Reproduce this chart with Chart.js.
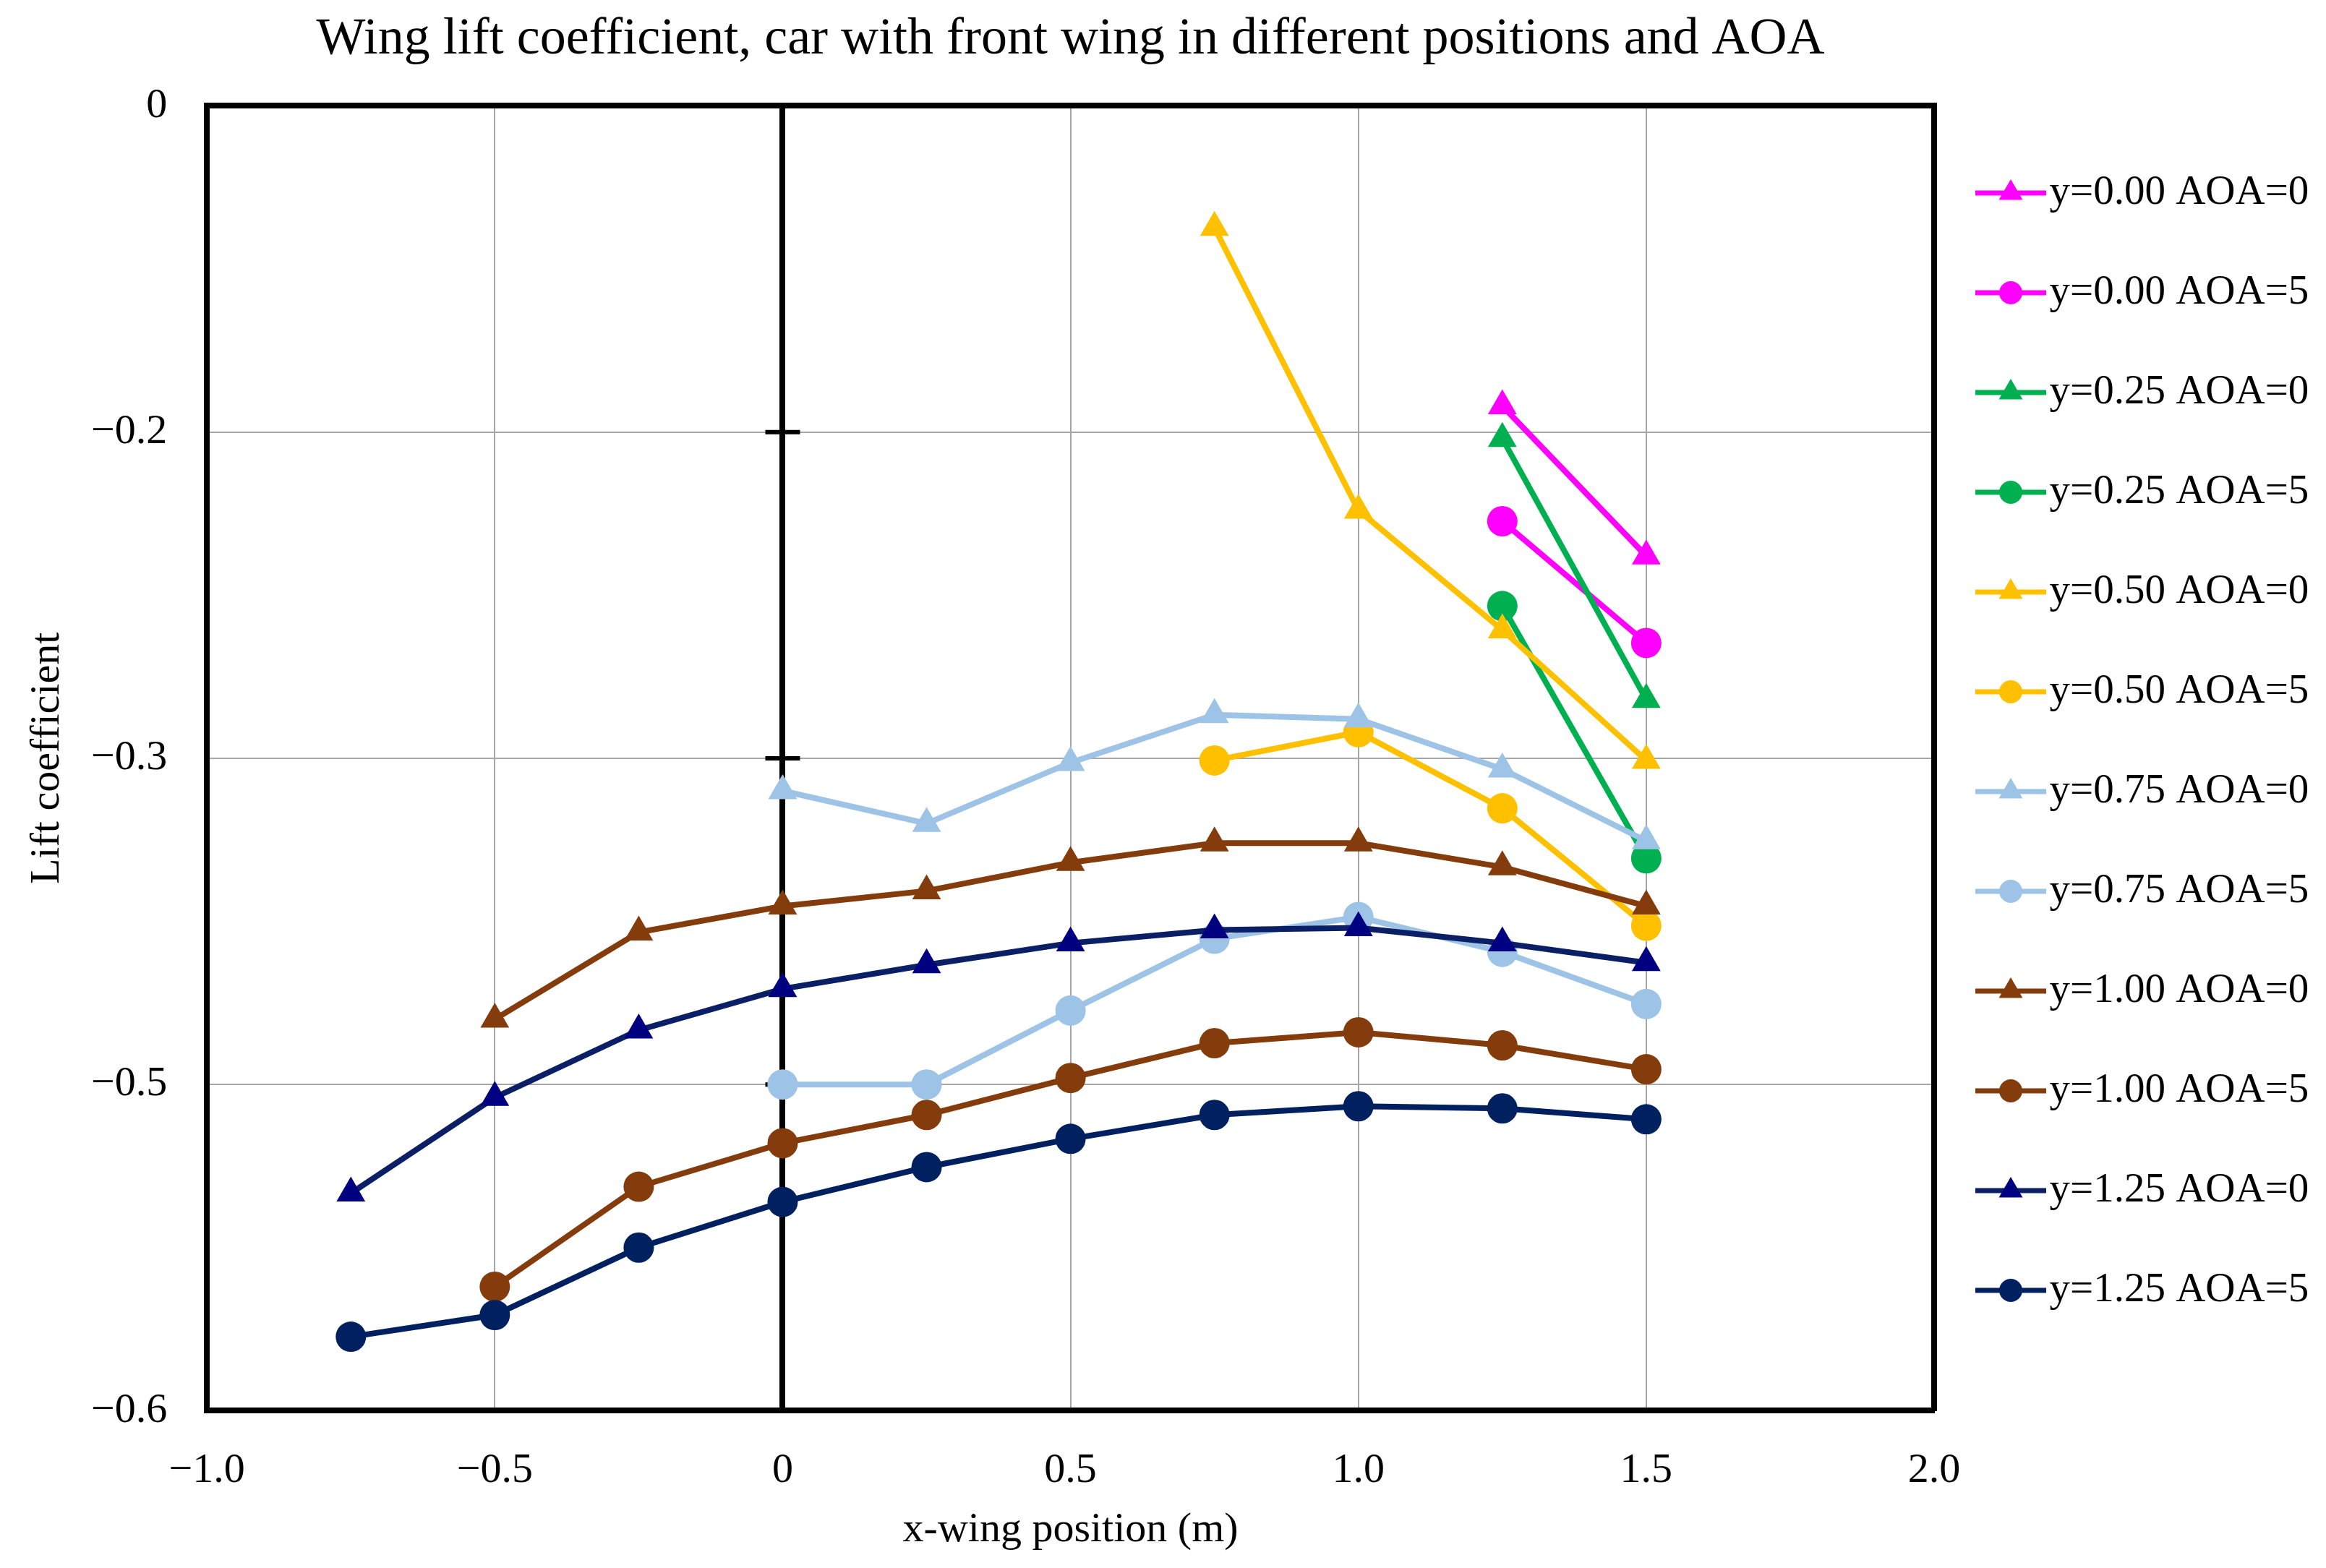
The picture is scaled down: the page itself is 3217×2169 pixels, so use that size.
<!DOCTYPE html>
<html>
<head>
<meta charset="utf-8">
<script src="https://cdn.jsdelivr.net/npm/chart.js@4.4.0/dist/chart.umd.min.js"></script>
<style>
  html,body{margin:0;padding:0;background:#fff}
  #wrap{width:3217px;height:2169px}
</style>
</head>
<body>
<div id="wrap"><canvas id="c"></canvas></div>
<script>
// data
const xSteps = [-0.75,-0.5,-0.25,0,0.25,0.5,0.75,1.0,1.25,1.5];
const xTicks = [-1,-0.5,0,0.5,1,1.5,2];
const xTickLabels = ['\u22121.0','\u22120.5','0','0.5','1.0','1.5','2.0'];
const yTicks = [-0.6,-0.45,-0.3,-0.15,0];
const yTickLabels = ['\u22120.6','\u22120.5','\u22120.3','\u22120.2','0'];

const seriesNames = ['y=0.00 AOA=0','y=0.00 AOA=5','y=0.25 AOA=0','y=0.25 AOA=5','y=0.50 AOA=0','y=0.50 AOA=5',
                     'y=0.75 AOA=0','y=0.75 AOA=5','y=1.00 AOA=0','y=1.00 AOA=5','y=1.25 AOA=0','y=1.25 AOA=5'];
// each series ends at x=1.5 and takes the last n x positions
const cl_y000_a0 = [-0.138,-0.207];
const cl_y000_a5 = [-0.191,-0.247];
const cl_y025_a0 = [-0.153,-0.273];
const cl_y025_a5 = [-0.230,-0.346];
const cl_y050_a0 = [-0.056,-0.186,-0.241,-0.301];
const cl_y050_a5 = [-0.301,-0.288,-0.323,-0.377];
const cl_y075_a0 = [-0.315,-0.330,-0.302,-0.280,-0.282,-0.305,-0.338];
const cl_y075_a5 = [-0.450,-0.450,-0.416,-0.383,-0.373,-0.389,-0.413];
const cl_y100_a0 = [-0.420,-0.380,-0.368,-0.361,-0.348,-0.339,-0.339,-0.350,-0.368];
const cl_y100_a5 = [-0.543,-0.497,-0.477,-0.464,-0.447,-0.431,-0.426,-0.432,-0.443];
const cl_y125_a0 = [-0.500,-0.456,-0.425,-0.406,-0.395,-0.385,-0.379,-0.378,-0.385,-0.394];
const cl_y125_a5 = [-0.566,-0.556,-0.525,-0.504,-0.488,-0.475,-0.464,-0.460,-0.461,-0.466];
const seriesValues = [cl_y000_a0,cl_y000_a5,cl_y025_a0,cl_y025_a5,cl_y050_a0,cl_y050_a5,
                      cl_y075_a0,cl_y075_a5,cl_y100_a0,cl_y100_a5,cl_y125_a0,cl_y125_a5];

// styles
const lineCol = ['#ff00ff','#ff00ff','#00b050','#00b050','#ffc000','#ffc000','#9dc3e6','#9dc3e6','#843c0c','#843c0c','#0b1f66','#002060'];
const markCol = ['#ff00ff','#ff00ff','#00b050','#00b050','#ffc000','#ffc000','#9dc3e6','#9dc3e6','#843c0c','#843c0c','#000080','#002060'];
const shape = seriesNames.map(n => n.endsWith('=0') ? 'triangle' : 'circle');
const SERIF = "'Liberation Serif','DejaVu Serif',serif";

function legendIcon(i){
  const c = document.createElement('canvas'); c.width = 98; c.height = 40;
  const g = c.getContext('2d');
  g.strokeStyle = lineCol[i]; g.lineWidth = 7;
  g.beginPath(); g.moveTo(0,20); g.lineTo(98,20); g.stroke();
  g.fillStyle = markCol[i]; g.beginPath();
  if (shape[i] === 'triangle'){ const r = 19; g.moveTo(49,20-r); g.lineTo(49+r*0.866,20+r/2); g.lineTo(49-r*0.866,20+r/2); g.closePath(); }
  else g.arc(49,20,16,0,Math.PI*2);
  g.fill();
  return c;
}

// short black marks crossing the x=0 axis line
const axisTicks = {id:'axisTicks', beforeDatasetsDraw(chart){
  const {ctx, scales:{x,y}} = chart; const px = x.getPixelForValue(0);
  ctx.save(); ctx.strokeStyle = '#000'; ctx.lineWidth = 6;
  yTicks.slice(1,-1).forEach(v => { const py = y.getPixelForValue(v); ctx.beginPath(); ctx.moveTo(px-24,py); ctx.lineTo(px+24,py); ctx.stroke(); });
  ctx.restore();
}};

const isZero = c => c.tick && Math.abs(c.tick.value) < 1e-9;

new Chart(document.getElementById('c'), {
  type:'scatter',
  data:{datasets: seriesNames.map((name,i) => ({
    label:name,
    data: seriesValues[i].map((v,k) => ({x: xSteps[xSteps.length - seriesValues[i].length + k], y: v})),
    showLine:true, borderColor:lineCol[i], backgroundColor:markCol[i], borderWidth:8,
    pointStyle:shape[i], pointRadius: shape[i]==='triangle' ? 23 : 21,
    pointBackgroundColor:markCol[i], pointBorderColor:markCol[i], pointBorderWidth:0,
    order:-i, tension:0
  }))},
  options:{
    responsive:true, maintainAspectRatio:false, animation:false, devicePixelRatio:1,
    layout:{padding:{left:0,right:22,top:0,bottom:0}},
    plugins:{
      title:{display:true, fullSize:false, text:'Wing lift coefficient, car with front wing in different positions and AOA',
        color:'#000', font:{family:SERIF, size:72, weight:'normal'}, padding:{top:12,bottom:48}},
      legend:{position:'right', align:'start', fullSize:false, maxWidth:520,
        title:{display:true, text:' ', font:{size:11, lineHeight:1}, padding:0},
        labels:{usePointStyle:true, pointStyleWidth:50, padding:81, color:'#000', font:{family:SERIF, size:57},
          generateLabels: chart => chart.data.datasets.map((d,i) => ({text:d.label, datasetIndex:i, pointStyle:legendIcon(i),
            fillStyle:markCol[i], strokeStyle:lineCol[i], lineWidth:0, hidden:false, fontColor:'#000'}))}},
      tooltip:{enabled:false}
    },
    scales:{
      x:{type:'linear', min:-1, max:2,
        afterBuildTicks: s => { s.ticks = xTicks.map(v => ({value:v})); },
        ticks:{callback:(v,i) => xTickLabels[i], color:'#000', font:{family:SERIF, size:58}, padding:49, maxRotation:0},
        grid:{color: c => isZero(c) ? '#000' : '#a6a6a6', lineWidth: c => isZero(c) ? 8 : 2, drawTicks:false},
        border:{color:'#000', width:8},
        title:{display:true, text:'x-wing position (m)', color:'#000', font:{family:SERIF, size:58, lineHeight:1}, padding:{top:-31,bottom:23}}},
      y:{type:'linear', min:-0.6, max:0,
        afterBuildTicks: s => { s.ticks = yTicks.map(v => ({value:v})); },
        ticks:{callback:(v,i) => yTickLabels[i], color:'#000', font:{family:SERIF, size:58}, padding:55},
        grid:{color:'#a6a6a6', lineWidth:2, drawTicks:false},
        border:{color:'#000', width:8},
        title:{display:true, text:'Lift coefficient', color:'#000', font:{family:SERIF, size:58, lineHeight:1}, padding:{top:37,bottom:-24}}},
      xTop:{type:'linear', position:'top', min:-1, max:2, ticks:{display:false}, grid:{display:false, drawTicks:false}, border:{color:'#000', width:8}},
      yRight:{type:'linear', position:'right', min:-0.6, max:0, ticks:{display:false}, grid:{display:false, drawTicks:false}, border:{color:'#000', width:8}}
    }
  },
  plugins:[axisTicks]
});
</script>
</body>
</html>
